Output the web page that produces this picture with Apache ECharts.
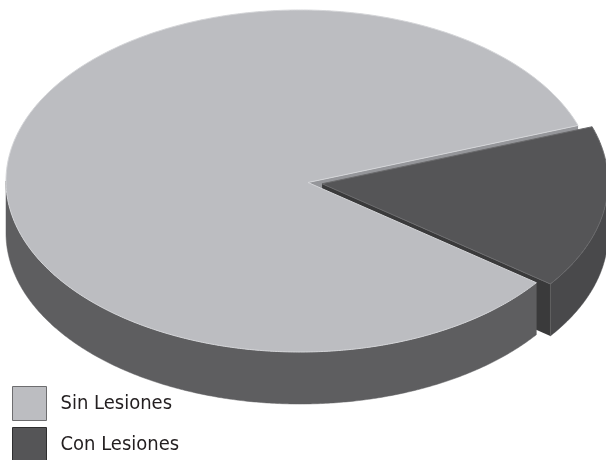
<!DOCTYPE html>
<html>
<head>
<meta charset="utf-8">
<script src="https://cdn.jsdelivr.net/npm/echarts@6/dist/echarts.min.js"></script>
<style>
html,body{margin:0;padding:0;background:#fff;}
#chart{width:606px;height:460px;}
</style>
</head>
<body>
<div id="chart"></div>
<script>
// ---- data ----
const categories = ['Sin Lesiones', 'Con Lesiones'];
const values = [84.6, 15.4];

// ---- styles ----
const topColors = ['#bcbdc1', '#555557'];
const sideColors = ['#5e5e60', '#49494b'];
const wallColors = ['#95969a', '#3a3a3b'];
const topStroke = ['#d4d5d8', '#6a6a6c'];
const legendBorders = ['#6d6d6f', '#2e2e2f'];
const legendTops = [386, 427];
const explodeDist = [0, 14.2];
const GEO = { cx: 300, cy: 181, a: 294, b: 171, depth: 52, px: 8, py: 1.5, startDeg: 36.5 };

const total = values.reduce((s, v) => s + v, 0);
const RAD = Math.PI / 180;

function sliceGeom(i, val) {
  let before = 0;
  for (let k = 0; k < i; k++) before += values[k];
  const t1 = (GEO.startDeg + before / total * 360) * RAD;
  const t2 = t1 + val / total * 360 * RAD;
  const mid = (t1 + t2) / 2;
  const ox = explodeDist[i] * Math.cos(mid);
  const oy = explodeDist[i] * Math.sin(mid) * GEO.b / GEO.a;
  return { t1, t2, ox, oy };
}
function pt(t, g, dz) {
  return [GEO.cx + g.ox + GEO.a * Math.cos(t), GEO.cy + g.oy + GEO.b * Math.sin(t) + (dz || 0)];
}
function pivot(g, dz) {
  return [GEO.cx + GEO.px + g.ox, GEO.cy + GEO.py + g.oy + (dz || 0)];
}
function arc(s, e, g, dz) {
  const n = Math.max(2, Math.ceil(Math.abs(e - s) / (0.5 * RAD)));
  const out = [];
  for (let k = 0; k <= n; k++) out.push(pt(s + (e - s) * k / n, g, dz));
  return out;
}
function topFace(i, g) {
  return {
    type: 'polygon',
    shape: { points: [pivot(g)].concat(arc(g.t1, g.t2, g)) },
    style: { fill: topColors[i], stroke: topStroke[i], lineWidth: 1 }
  };
}
function sideFaces(i, g) {
  const out = [];
  for (let k = -1; k <= 2; k++) {
    const lo = Math.max(g.t1, 2 * Math.PI * k);
    const hi = Math.min(g.t2, 2 * Math.PI * k + Math.PI);
    if (hi > lo) {
      const pts = arc(lo, hi, g).concat(arc(hi, lo, g, GEO.depth));
      out.push({ type: 'polygon', shape: { points: pts }, style: { fill: sideColors[i], stroke: sideColors[i], lineWidth: 0.5 } });
    }
  }
  return out;
}
function radialWall(i, g, t) {
  const c = pt(t, g);
  const p = pivot(g);
  return {
    type: 'polygon',
    shape: { points: [p, c, [c[0], c[1] + GEO.depth], [p[0], p[1] + GEO.depth]] },
    style: { fill: wallColors[i] }
  };
}
function wallVisible(t, isEnd) {
  return isEnd ? Math.cos(t) > 0 : Math.cos(t) < 0;
}

// back part: visible radial walls of slice 0 (drawn beneath the exploded slice)
function renderBack(params, api) {
  const i = 0;
  const g = sliceGeom(i, api.value(0));
  const children = [];
  if (wallVisible(g.t1, false)) children.push(radialWall(i, g, g.t1));
  if (wallVisible(g.t2, true)) children.push(radialWall(i, g, g.t2));
  return { type: 'group', children };
}
function renderSlice(i) {
  return function (params, api) {
    const g = sliceGeom(i, api.value(0));
    let children = [];
    if (i === 1) {
      if (wallVisible(g.t1, false)) children.push(radialWall(i, g, g.t1));
      if (wallVisible(g.t2, true)) children.push(radialWall(i, g, g.t2));
    }
    children = children.concat(sideFaces(i, g));
    children.push(topFace(i, g));
    return { type: 'group', children };
  };
}

const chart = echarts.init(document.getElementById('chart'), null, { renderer: 'canvas' });
chart.setOption({
  animation: false,
  backgroundColor: '#ffffff',
  legend: categories.map((name, i) => ({
    orient: 'vertical',
    left: 12,
    top: legendTops[i],
    padding: 0,
    itemWidth: 34,
    itemHeight: 34,
    selectedMode: false,
    data: [{ name: name, icon: 'rect', itemStyle: { color: topColors[i], borderColor: legendBorders[i], borderWidth: 1 } }],
    textStyle: { fontFamily: '"DejaVu Sans Condensed", sans-serif', fontSize: 20, color: '#231f20', padding: [7, 0, 0, 9] }
  })),
  series: [
    { name: categories[0], type: 'custom', coordinateSystem: 'none', z: 1, silent: true,
      itemStyle: { color: topColors[0] }, data: [values[0]], renderItem: renderBack },
    { name: categories[1], type: 'custom', coordinateSystem: 'none', z: 2, silent: true,
      itemStyle: { color: topColors[1] }, data: [values[1]], renderItem: renderSlice(1) },
    { name: categories[0], type: 'custom', coordinateSystem: 'none', z: 3, silent: true,
      itemStyle: { color: topColors[0] }, data: [values[0]], renderItem: renderSlice(0) }
  ]
});
</script>
</body>
</html>
